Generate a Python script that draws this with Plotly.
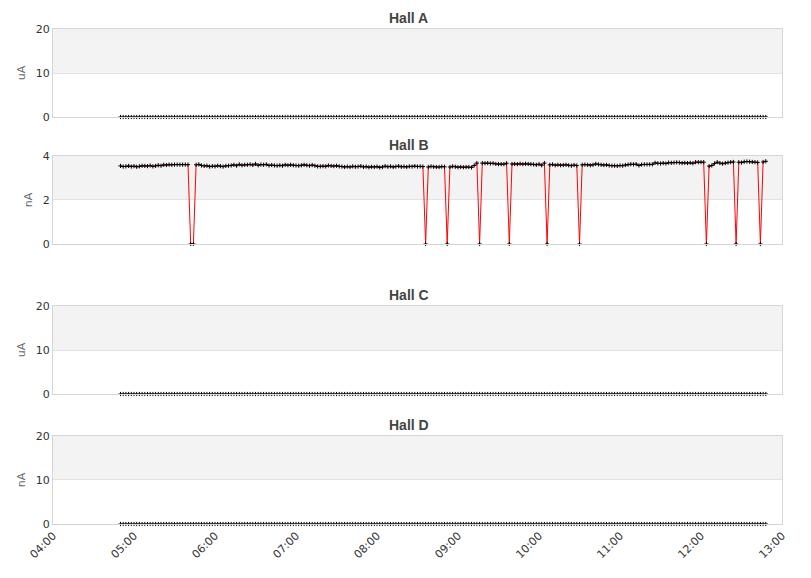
import pandas as pd
import plotly.graph_objects as go

start_time = "2024-01-01 04:50"
step = "2min"

hall_b = [
    3.55, 3.52, 3.53, 3.55, 3.52, 3.54, 3.51, 3.53, 3.56, 3.55,
    3.54, 3.57, 3.53, 3.55, 3.58, 3.56, 3.60, 3.59, 3.61, 3.60,
    3.61, 3.61, 3.61, 3.61, 3.61, 3.61,
    0, 0,
    3.60, 3.62, 3.57, 3.55, 3.56, 3.52, 3.54, 3.53, 3.56, 3.54, 3.52, 3.55, 3.56,
    3.57, 3.60, 3.56, 3.62, 3.58, 3.60, 3.60, 3.62, 3.59, 3.64,
    3.58, 3.61, 3.60, 3.62, 3.57, 3.59, 3.57, 3.56, 3.58, 3.56,
    3.60, 3.58, 3.60, 3.58, 3.57, 3.56, 3.58, 3.60, 3.58, 3.56,
    3.59, 3.56, 3.53, 3.53, 3.54, 3.53, 3.57, 3.55, 3.54, 3.56,
    3.53, 3.52, 3.50, 3.52, 3.50, 3.53, 3.51, 3.52, 3.54, 3.50,
    3.52, 3.49, 3.51, 3.50, 3.52, 3.48, 3.50, 3.54, 3.51, 3.53,
    3.50, 3.52, 3.54, 3.51, 3.52, 3.50, 3.53, 3.52, 3.54, 3.52,
    3.53, 3.52,
    0,
    3.50, 3.53, 3.51, 3.50, 3.50, 3.52, 3.51,
    0,
    3.50, 3.53, 3.51, 3.49, 3.50, 3.49, 3.50, 3.50, 3.48, 3.57, 3.68,
    0,
    3.68, 3.67, 3.68, 3.66, 3.67, 3.64, 3.63, 3.63, 3.63, 3.67,
    0,
    3.64, 3.64, 3.63, 3.65, 3.63, 3.65, 3.64, 3.63, 3.62, 3.60, 3.63, 3.58, 3.68,
    0,
    3.60, 3.62, 3.58, 3.60, 3.58, 3.59, 3.60, 3.58, 3.56, 3.59, 3.57,
    0,
    3.60, 3.61, 3.60, 3.58, 3.60, 3.64, 3.62, 3.60, 3.59, 3.60,
    3.57, 3.56, 3.56, 3.55, 3.57, 3.56, 3.59, 3.61, 3.63, 3.62,
    3.63, 3.57, 3.61, 3.62, 3.62, 3.62, 3.62, 3.69, 3.67, 3.66,
    3.68, 3.66, 3.70, 3.69, 3.70, 3.71, 3.70, 3.68, 3.69, 3.68,
    3.69, 3.67, 3.72, 3.72, 3.72, 3.72,
    0,
    3.54, 3.57, 3.66, 3.72, 3.68, 3.65, 3.68, 3.70, 3.72, 3.73,
    0,
    3.72, 3.70, 3.74, 3.75, 3.74, 3.73, 3.72, 3.71,
    0,
    3.73, 3.76,
]
hall_a = [0] * len(hall_b)
hall_c = [0] * len(hall_b)
hall_d = [0] * len(hall_b)

times = pd.date_range(start_time, periods=len(hall_b), freq=step)

panels = [
    ("Hall A", "uA", hall_a, [0, 20], [0, 10, 20], False),
    ("Hall B", "nA", hall_b, [0, 4], [0, 2, 4], True),
    ("Hall C", "uA", hall_c, [0, 20], [0, 10, 20], False),
    ("Hall D", "nA", hall_d, [0, 20], [0, 10, 20], False),
]
x_range = ["2024-01-01 04:00", "2024-01-01 13:00"]
x_ticks = pd.date_range("2024-01-01 04:00", "2024-01-01 13:00", freq="1h")

domains = [[0.8222, 1.0], [0.5657, 0.7434], [0.2626, 0.4404], [0.0, 0.1778]]

fig = go.Figure()
shapes = []
annotations = []
tick_font = dict(family="DejaVu Sans", size=11, color="#333333")
border = "#d6d6d6"
grid = "#e2e2e2"

for i, (title, unit, vals, yr, yt, show_line) in enumerate(panels):
    n = i + 1
    xa = "x" if n == 1 else f"x{n}"
    ya = "y" if n == 1 else f"y{n}"
    fig.add_trace(go.Scatter(
        x=times, y=vals, xaxis=xa, yaxis=ya,
        mode="lines+markers" if show_line else "markers",
        line=dict(color="#ff0000", width=1),
        marker=dict(symbol="cross-thin", size=3, color="black",
                    line=dict(color="black", width=1)),
        cliponaxis=False, showlegend=False, hoverinfo="x+y",
    ))
    last = n == 4
    fig.update_layout(**{
        ("xaxis" if n == 1 else f"xaxis{n}"): dict(
            domain=[0, 1], anchor=ya, type="date", range=x_range,
            matches=None if n == 4 else "x4",
            tickvals=x_ticks, tickformat="%H:%M", tickangle=-45,
            showticklabels=last, tickfont=tick_font,
            showgrid=False, zeroline=False,
            showline=True, linecolor=border, linewidth=1, mirror=True,
            ticks="", automargin=False,
        ),
        ("yaxis" if n == 1 else f"yaxis{n}"): dict(
            domain=domains[i], anchor=xa, range=yr, tickvals=yt,
            tickfont=tick_font, showgrid=True, gridcolor=grid, gridwidth=1,
            zeroline=False, showline=True, linecolor=border, linewidth=1,
            mirror=True, ticks="", ticklen=0, automargin=False,
            title=dict(text=unit, font=dict(family="DejaVu Sans", size=11, color="#666666"),
                       standoff=7),
        ),
    })
    shapes.append(dict(
        type="rect", xref=f"{xa} domain", yref=ya, x0=0, x1=1,
        y0=yt[1], y1=yt[2], fillcolor="#f3f3f3", line=dict(width=0), layer="below",
    ))
    annotations.append(dict(
        text=f"<b>{title}</b>", xref="paper", yref="paper", x=0.5, y=domains[i][1],
        xanchor="center", yanchor="bottom", yshift=1, xshift=-9, showarrow=False,
        font=dict(family="Liberation Sans", size=14, color="#444444"),
    ))

fig.update_layout(
    width=803, height=570,
    margin=dict(l=45, r=29, t=21, b=54, autoexpand=False),
    paper_bgcolor="white", plot_bgcolor="white",
    shapes=shapes, annotations=annotations,
)

fig.write_html("out.html")
